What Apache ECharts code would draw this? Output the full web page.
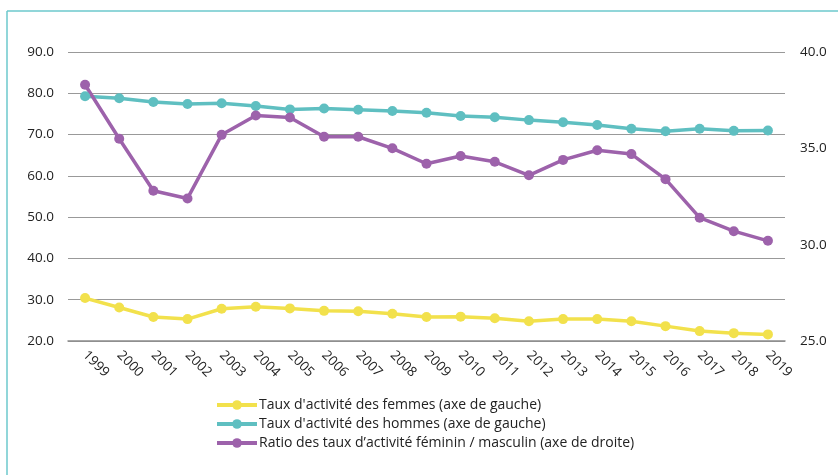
<!DOCTYPE html>
<html><head><meta charset="utf-8">
<script src="https://cdn.jsdelivr.net/npm/echarts@6/dist/echarts.min.js"></script>
<style>html,body{margin:0;padding:0;background:#fff}#c{width:838px;height:475px}</style>
</head><body><div id="c"></div>
<script>
const years = ['1999','2000','2001','2002','2003','2004','2005','2006','2007','2008','2009','2010','2011','2012','2013','2014','2015','2016','2017','2018','2019'];
const femmes = [30.4,28.1,25.8,25.3,27.8,28.3,27.9,27.3,27.2,26.6,25.8,25.9,25.5,24.8,25.3,25.3,24.8,23.6,22.4,21.9,21.6];
const hommes = [79.3,78.8,77.9,77.4,77.6,76.9,76.1,76.3,76.0,75.7,75.3,74.5,74.2,73.5,73.0,72.3,71.4,70.8,71.4,70.9,71.0];
const ratio = [38.3,35.5,32.8,32.4,35.7,36.7,36.6,35.6,35.6,35.0,34.2,34.6,34.3,33.6,34.4,34.9,34.7,33.4,31.4,30.7,30.2];
const names = ["Taux d'activité des femmes (axe de gauche)","Taux d'activité des hommes (axe de gauche)","Ratio des taux d’activité féminin / masculin (axe de droite)"];
const colors = ['#F2E14C','#5FBFC1','#9D62AB'];
const font = 'Open Sans, DejaVu Sans, sans-serif';
const chart = echarts.init(document.getElementById('c'), null, {renderer:'canvas'});
function mk(i, data, axis){
  return {name:names[i], type:'line', data:data, yAxisIndex:axis, symbol:'circle', symbolSize:10,
    lineStyle:{width:3.5,color:colors[i]}, itemStyle:{color:colors[i]}, animation:false};
}
chart.setOption({
  animation:false,
  textStyle:{fontFamily:font},
  graphic:[
    {type:'line', shape:{x1:7,y1:11,x2:7,y2:475}, style:{stroke:'#6CC9CC',lineWidth:1.5}},
    {type:'line', shape:{x1:7,y1:11,x2:838,y2:11}, style:{stroke:'#6CC9CC',lineWidth:1.5}}
  ],
  grid:{left:68,right:53,top:52,bottom:134},
  legend:{orient:'vertical', left:210, top:393, itemWidth:40, itemHeight:12, itemGap:5,
    lineStyle:{width:4},
    textStyle:{fontSize:14,color:'#222',fontFamily:font,padding:[0,0,0,-3]},
    data:names},
  xAxis:{type:'category', data:years, boundaryGap:true,
    axisLine:{lineStyle:{color:'#8c8c8c',width:1.5}},
    axisTick:{inside:true,length:4,lineStyle:{color:'#8c8c8c'}},
    axisLabel:{rotate:-45, margin:12, fontSize:13.5, color:'#222', fontFamily:font, interval:0}},
  yAxis:[
    {type:'value', min:20, max:90, interval:10,
      axisLabel:{formatter:v=>v.toFixed(1), fontSize:13.5, color:'#222', margin:14, fontFamily:font},
      axisLine:{show:false}, axisTick:{show:false},
      splitLine:{lineStyle:{color:'#999',width:1.2}}},
    {type:'value', min:25, max:40, interval:5, position:'right',
      axisLabel:{formatter:v=>v.toFixed(1), fontSize:13.5, color:'#222', margin:15, fontFamily:font},
      axisLine:{show:false}, axisTick:{show:false}, splitLine:{show:false}}
  ],
  series:[mk(0,femmes,0), mk(1,hommes,0), mk(2,ratio,1)]
});
</script></body></html>
